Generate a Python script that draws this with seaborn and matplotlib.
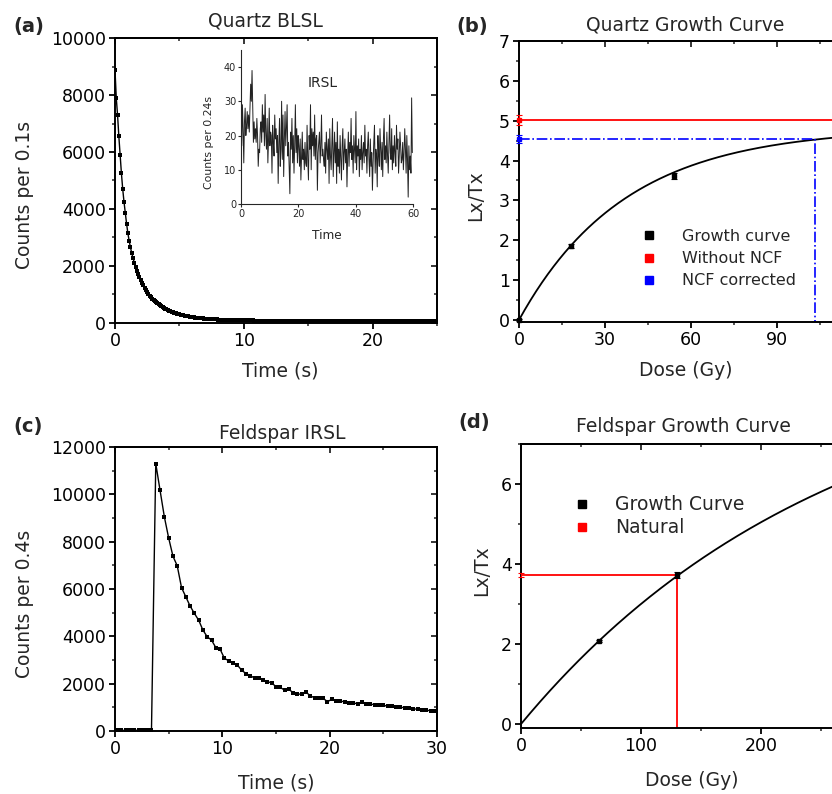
import numpy as np
import seaborn as sns
import matplotlib.pyplot as plt
from matplotlib.lines import Line2D
from matplotlib.ticker import MultipleLocator, FixedLocator, AutoMinorLocator

# ---- (a) quartz BLSL decay, counts per 0.1 s
blsl_counts = [
    8900, 7900, 7300, 6550, 5900, 5250, 4700, 4250, 3850, 3480,
    3150, 2880, 2650, 2450, 2270, 2110, 1960, 1830, 1710, 1600,
    1500, 1400, 1310, 1230, 1150, 1080, 1010, 950, 895, 845,
    800, 755, 715, 678, 642, 610, 578, 548, 520, 494,
    470, 447, 426, 406, 387, 369, 352, 336, 321, 307,
    294, 281, 269, 258, 247, 237, 228, 219, 210, 202,
    195, 188, 181, 175, 169, 163, 158, 153, 148, 144,
    140, 136, 132, 129, 126, 123, 120, 117, 115, 112,
    110, 108, 106, 104, 102, 100, 99, 97, 96, 94,
    93, 92, 91, 89, 88, 87, 86, 85, 84, 83,
    82, 81, 80, 80, 79, 78, 77, 77, 76, 75,
    75, 74, 73, 73, 72, 72, 71, 71, 70, 70,
    69, 69, 68, 68, 67, 67, 67, 66, 66, 65,
    65, 65, 64, 64, 64, 63, 63, 63, 62, 62,
    62, 61, 61, 61, 60, 60, 60, 60, 59, 59,
    59, 58, 58, 58, 58, 57, 57, 57, 57, 56,
    56, 56, 56, 56, 55, 55, 55, 55, 55, 54,
    54, 54, 54, 54, 54, 53, 53, 53, 53, 53,
    53, 52, 52, 52, 52, 52, 52, 51, 51, 51,
    51, 51, 51, 51, 50, 50, 50, 50, 50, 50,
    50, 50, 49, 49, 49, 49, 49, 49, 49, 49,
    48, 48, 48, 48, 48, 48, 48, 48, 48, 48,
    48, 48, 48, 48, 47, 47, 47, 47, 47, 47,
    47, 47, 47, 47, 47, 46, 46, 46, 46, 46,
    46, 46, 46, 46, 46, 46, 46, 46, 46, 46,
    46,
]
blsl_time = np.arange(len(blsl_counts)) * 0.1

# ---- inset: quartz IRSL, counts per 0.24 s
irsl_counts = [
    25, 17, 29, 22, 12, 24, 28, 20, 23, 27, 22, 26, 21, 28, 35, 30, 39, 28, 18, 24, 19, 22, 18, 25, 20,
    11, 16, 15, 22, 24, 18, 29, 21, 26, 17, 32, 20, 16, 25, 12, 19, 28, 17, 21, 20, 9, 23, 18, 14, 26,
    19, 22, 15, 20, 6, 18, 25, 11, 16, 30, 13, 26, 8, 19, 27, 17, 22, 29, 14, 18, 10, 3, 21, 16, 25,
    12, 20, 9, 17, 29, 15, 22, 12, 20, 17, 11, 19, 7, 14, 21, 13, 16, 10, 18, 12, 11, 23, 13, 7, 20,
    16, 29, 10, 22, 17, 21, 14, 26, 13, 19, 20, 4, 15, 18, 21, 12, 17, 26, 14, 16, 13, 11, 18, 9, 21,
    16, 13, 19, 6, 22, 14, 10, 17, 25, 8, 15, 21, 12, 18, 6, 24, 11, 16, 9, 20, 13, 7, 17, 22, 10,
    15, 19, 12, 16, 5, 14, 21, 11, 18, 15, 25, 13, 17, 9, 20, 16, 12, 27, 10, 17, 14, 19, 8, 16, 13,
    20, 10, 15, 18, 12, 23, 14, 16, 9, 17, 21, 13, 8, 19, 11, 15, 4, 12, 18, 23, 9, 16, 14, 5, 20,
    14, 11, 22, 16, 10, 18, 8, 19, 25, 13, 17, 12, 21, 14, 9, 18, 26, 15, 13, 22, 10, 17, 12, 20, 15,
    11, 23, 16, 19, 9, 14, 21, 17, 12, 13, 18, 10, 15, 22, 16, 9, 20, 13, 2, 17, 10, 14, 9, 31, 15,
]
irsl_time = np.arange(len(irsl_counts)) * 0.24

# ---- (b) quartz growth curve
q_dose = [0, 18, 54, 110]
q_lxtx = [0.0, 1.85, 3.62, 4.62]
q_err = [0.03, 0.05, 0.08, 0.1]
q_fit_a, q_fit_d = 4.82, 36.9          # saturating exponential fit
q_natural, q_natural_err = 5.02, 0.12  # without NCF
q_corr, q_corr_err = 4.53, 0.10        # NCF corrected
q_de = 103.0

# ---- (c) feldspar IRSL, counts per 0.4 s
fsp_counts = [
    30, 25, 30, 28, 32, 27, 30, 29, 31,
    11300, 10170, 9050, 8160, 7390, 6980, 6060, 5670, 5280, 4970,
    4680, 4260, 3980, 3840, 3520, 3450, 3070, 2970, 2860, 2790,
    2570, 2430, 2340, 2240, 2260, 2150, 2080, 2040, 1870, 1840,
    1730, 1760, 1620, 1560, 1560, 1650, 1480, 1410, 1410, 1380,
    1240, 1340, 1280, 1260, 1240, 1200, 1190, 1150, 1230, 1150,
    1130, 1120, 1080, 1100, 1040, 1060, 1020, 1000, 990, 960,
    940, 920, 900, 880, 860, 840,
]
fsp_time = 0.2 + np.arange(len(fsp_counts)) * 0.4

# ---- (d) feldspar growth curve
f_dose = [65.3, 130.3]
f_lxtx = [2.08, 3.72]
f_err = [0.03, 0.07]
f_fit_a, f_fit_d = 9.4, 260.0
f_natural, f_natural_err = 3.72, 0.05
f_de = 130.3

W, H = 832, 794
sns.set_style('ticks')
plt.rcParams['font.family'] = ['DejaVu Sans']
plt.rcParams['axes.linewidth'] = 1.4

fig = plt.figure(figsize=(W / 100, H / 100), dpi=100)


def px(x, y):
    return x / W, 1 - y / H


def style_axes(ax, xticks, ymaj, right=True):
    ax.xaxis.set_major_locator(FixedLocator(xticks))
    ax.yaxis.set_major_locator(MultipleLocator(ymaj))
    ax.xaxis.set_minor_locator(AutoMinorLocator(2))
    ax.yaxis.set_minor_locator(AutoMinorLocator(2))
    ax.tick_params(which='major', direction='out', length=4, width=1.3,
                   labelsize=12.5, pad=2.5, colors='black')
    ax.tick_params(which='minor', direction='out', length=2.5, width=1.1)
    for s in ax.spines.values():
        s.set_linewidth(1.4)
        s.set_color('black')
    # mirrored inward ticks on top / right like Origin
    top = ax.secondary_xaxis('top')
    top.xaxis.set_major_locator(FixedLocator(xticks))
    top.xaxis.set_minor_locator(AutoMinorLocator(2))
    top.tick_params(which='major', direction='in', length=4, width=1.3, labeltop=False)
    top.tick_params(which='minor', direction='in', length=2.5, width=1.1)
    top.spines['top'].set_linewidth(1.4)
    if right:
        rgt = ax.secondary_yaxis('right')
        rgt.yaxis.set_major_locator(MultipleLocator(ymaj))
        rgt.yaxis.set_minor_locator(AutoMinorLocator(2))
        rgt.tick_params(which='major', direction='in', length=4, width=1.3, labelright=False)
        rgt.tick_params(which='minor', direction='in', length=2.5, width=1.1)
        rgt.spines['right'].set_linewidth(1.4)


def add_title(ax, s, x, y):
    ax.text(x, y, s, transform=ax.transAxes, ha='center', va='baseline', fontsize=13.5)


# ================= (a)
ax_a = fig.add_axes([0.1382, 0.5936, 0.387, 0.3582])
sns.lineplot(x=blsl_time, y=blsl_counts, ax=ax_a, color='black', lw=1.0,
             marker='s', markersize=2.8, markeredgewidth=0, estimator=None)
ax_a.set_xlim(0, 25)
ax_a.set_ylim(0, 10000)
style_axes(ax_a, [0, 10, 20], 2000)
ax_a.set_xlabel('Time (s)', fontsize=13.5)
ax_a.set_ylabel('Counts per 0.1s', fontsize=13.5)
ax_a.xaxis.set_label_coords(0.512, -0.135)
ax_a.yaxis.set_label_coords(-0.252, 0.449)
add_title(ax_a, 'Quartz BLSL', 0.466, 1.042)

ax_in = fig.add_axes([0.2897, 0.7431, 0.2067, 0.194])
ax_in.set_facecolor('none')
sns.lineplot(x=irsl_time, y=irsl_counts, ax=ax_in, color='#222222', lw=0.7, estimator=None)
ax_in.set_xlim(0, 60)
ax_in.set_ylim(0, 45)
ax_in.xaxis.set_major_locator(MultipleLocator(20))
ax_in.yaxis.set_major_locator(MultipleLocator(10))
ax_in.spines['top'].set_visible(False)
ax_in.spines['right'].set_visible(False)
for s in ('left', 'bottom'):
    ax_in.spines[s].set_linewidth(0.8)
ax_in.tick_params(direction='out', length=2, width=0.8, labelsize=7, pad=1.5)
ax_in.set_xlabel('Time', fontsize=8.7)
ax_in.set_ylabel('Counts per 0.24s', fontsize=7.8)
ax_in.xaxis.set_label_coords(0.5, -0.165)
ax_in.yaxis.set_label_coords(-0.157, 0.396)
ax_in.text(0.477, 0.76, 'IRSL', transform=ax_in.transAxes, ha='center',
           va='baseline', fontsize=10)

# ================= (b)
ax_b = fig.add_axes([0.6238, 0.5945, 0.414, 0.3539])
q_fit_x = np.linspace(0, 120, 300)
q_fit_y = q_fit_a * (1 - np.exp(-q_fit_x / q_fit_d))
sns.lineplot(x=q_fit_x, y=q_fit_y, ax=ax_b, color='black', lw=1.3, estimator=None)
sns.lineplot(x=[0, 120], y=[q_natural, q_natural], ax=ax_b, color='red', lw=1.3,
             estimator=None, sort=False)
sns.lineplot(x=[0, q_de, q_de], y=[q_corr, q_corr, -0.05], ax=ax_b, color='blue',
             lw=1.2, linestyle='-.', estimator=None, sort=False)
ax_b.errorbar(q_dose, q_lxtx, yerr=q_err, fmt='s', ms=3, color='black',
              capsize=2.5, elinewidth=0.8, capthick=0.8, clip_on=False, zorder=5)
ax_b.errorbar([0], [q_natural], yerr=[q_natural_err], fmt='s', ms=3, color='red',
              capsize=2.5, elinewidth=0.8, capthick=0.8, clip_on=False, zorder=5)
ax_b.errorbar([0], [q_corr], yerr=[q_corr_err], fmt='s', ms=3, color='blue',
              capsize=2.5, elinewidth=0.8, capthick=0.8, clip_on=False, zorder=5)
ax_b.set_xlim(0, 120)
ax_b.set_ylim(-0.05, 7)
style_axes(ax_b, [0, 30, 60, 90], 1, right=False)
ax_b.set_xlabel('Dose (Gy)', fontsize=13.5)
ax_b.set_ylabel('Lx/Tx', fontsize=13.5)
ax_b.xaxis.set_label_coords(0.485, -0.14)
ax_b.yaxis.set_label_coords(-0.097, 0.448)
add_title(ax_b, 'Quartz Growth Curve', 0.482, 1.039)
hb = [Line2D([], [], marker='s', ls='none', color=c, ms=6) for c in ('black', 'red', 'blue')]
ax_b.legend(hb, ['Growth curve', 'Without NCF', 'NCF corrected'], loc='upper left',
            bbox_to_anchor=(0.354, 0.331), frameon=False, fontsize=11.5,
            handlelength=1.0, handletextpad=1.56, labelspacing=0.45,
            borderpad=0, borderaxespad=0)

# ================= (c)
ax_c = fig.add_axes([0.1382, 0.0793, 0.387, 0.3577])
sns.lineplot(x=fsp_time, y=fsp_counts, ax=ax_c, color='black', lw=1.0,
             marker='s', markersize=2.8, markeredgewidth=0, estimator=None)
ax_c.set_xlim(0, 30)
ax_c.set_ylim(0, 12000)
style_axes(ax_c, [0, 10, 20, 30], 2000)
ax_c.set_xlabel('Time (s)', fontsize=13.5)
ax_c.set_ylabel('Counts per 0.4s', fontsize=13.5)
ax_c.xaxis.set_label_coords(0.5, -0.148)
ax_c.yaxis.set_label_coords(-0.252, 0.447)
add_title(ax_c, 'Feldspar IRSL', 0.519, 1.028)

# ================= (d)
ax_d = fig.add_axes([0.6262, 0.0831, 0.4327, 0.3577])
f_fit_x = np.linspace(0, 300, 300)
f_fit_y = f_fit_a * (1 - np.exp(-f_fit_x / f_fit_d))
sns.lineplot(x=f_fit_x, y=f_fit_y, ax=ax_d, color='black', lw=1.3, estimator=None)
sns.lineplot(x=[0, f_de, f_de], y=[f_natural, f_natural, -0.1], ax=ax_d, color='red',
             lw=1.3, estimator=None, sort=False)
ax_d.errorbar(f_dose, f_lxtx, yerr=f_err, fmt='s', ms=3, color='black',
              capsize=2.5, elinewidth=0.8, capthick=0.8, clip_on=False, zorder=5)
ax_d.errorbar([0], [f_natural], yerr=[f_natural_err], fmt='none', color='red',
              capsize=2.5, elinewidth=0.8, capthick=0.8, clip_on=False, zorder=5)
ax_d.set_xlim(0, 300)
ax_d.set_ylim(-0.1, 7)
style_axes(ax_d, [0, 100, 200], 2, right=False)
ax_d.set_xlabel('Dose (Gy)', fontsize=13.5)
ax_d.set_ylabel('Lx/Tx', fontsize=13.5)
ax_d.xaxis.set_label_coords(0.475, -0.152)
ax_d.yaxis.set_label_coords(-0.083, 0.553)
add_title(ax_d, 'Feldspar Growth Curve', 0.45, 1.042)
hd = [Line2D([], [], marker='s', ls='none', color=c, ms=6) for c in ('black', 'red')]
ax_d.legend(hd, ['Growth Curve', 'Natural'], loc='upper left',
            bbox_to_anchor=(0.143, 0.82), frameon=False, fontsize=13.5,
            handlelength=1.0, handletextpad=1.26, labelspacing=0.22,
            borderpad=0, borderaxespad=0)

# panel letters
for s, (x, y) in {'(a)': (13, 32), '(b)': (456, 32), '(c)': (13, 432), '(d)': (458, 428)}.items():
    fig.text(*px(x, y), s, fontsize=14, fontweight='bold', ha='left', va='baseline')

fig.savefig('out.png', dpi=100)
